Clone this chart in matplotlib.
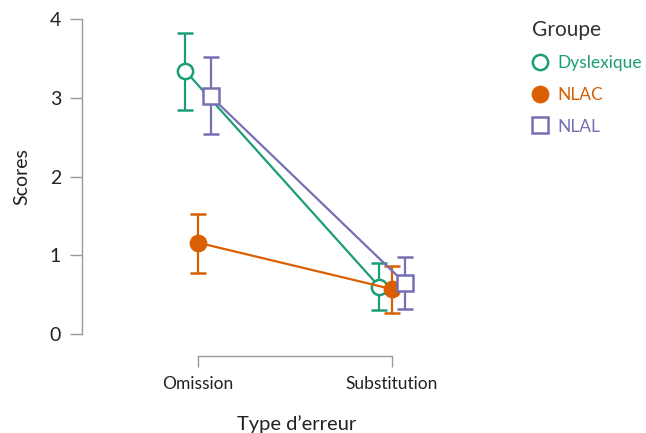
import matplotlib.pyplot as plt
from matplotlib.lines import Line2D

plt.rcParams['font.family'] = ['Lato', 'DejaVu Sans']

# Data
categories = ["Omission", "Substitution"]
groups = ["Dyslexique", "NLAC", "NLAL"]
means = {
    "Dyslexique": [3.34, 0.60],
    "NLAC": [1.16, 0.57],
    "NLAL": [3.02, 0.65],
}
lower = {
    "Dyslexique": [2.84, 0.30],
    "NLAC": [0.77, 0.27],
    "NLAL": [2.54, 0.32],
}
upper = {
    "Dyslexique": [3.82, 0.90],
    "NLAC": [1.52, 0.86],
    "NLAL": [3.52, 0.98],
}

colors = {"Dyslexique": "#1b9e77", "NLAC": "#d95f02", "NLAL": "#7570b3"}
markers = {"Dyslexique": "o", "NLAC": "o", "NLAL": "s"}
filled = {"Dyslexique": False, "NLAC": True, "NLAL": False}
dodge = {"Dyslexique": -0.065, "NLAC": 0.0, "NLAL": 0.065}

fig = plt.figure(figsize=(6.46, 4.33), dpi=100)
ax = fig.add_axes([82 / 646, 1 - 334 / 433, 430 / 646, 315 / 433])

for g in groups:
    xs = [i + dodge[g] for i in range(len(categories))]
    ys = means[g]
    yerr = [[m - lo for m, lo in zip(ys, lower[g])],
            [hi - m for m, hi in zip(ys, upper[g])]]
    c = colors[g]
    ax.errorbar(xs, ys, yerr=yerr, color=c, lw=1.6, elinewidth=1.6,
                capsize=6, capthick=1.6, marker=markers[g], markersize=11,
                markeredgewidth=1.8, markeredgecolor=c,
                markerfacecolor=c if filled[g] else "white",
                clip_on=False, zorder=3)

ax.set_xlim(-0.598, 1.619)
ax.set_ylim(0, 4)
ax.set_xticks(range(len(categories)))
ax.set_xticklabels(categories)
ax.set_yticks([0, 1, 2, 3, 4])

for s in ["top", "right"]:
    ax.spines[s].set_visible(False)
ax.spines["left"].set_bounds(0, 4)
ax.spines["bottom"].set_bounds(0, 1)
ax.spines["bottom"].set_position(("outward", 16))
for s in ["left", "bottom"]:
    ax.spines[s].set_color("#9a9a9a")
    ax.spines[s].set_linewidth(1.0)
ax.tick_params(axis="both", width=1.0, color="#9a9a9a",
               labelcolor="#222222")
ax.tick_params(axis="y", labelsize=14, pad=6, length=9)
ax.tick_params(axis="x", labelsize=12.5, pad=6, length=8)

ax.set_ylabel("Scores", fontsize=14, color="#222222", labelpad=14)
ax.set_xlabel("Type d\u2019erreur", fontsize=14.5, color="#222222", labelpad=17)

handles = [Line2D([], [], linestyle="none", marker=markers[g], markersize=11,
                  markeredgewidth=1.8, markeredgecolor=colors[g],
                  markerfacecolor=colors[g] if filled[g] else "white")
           for g in groups]
leg = fig.legend(handles, groups, loc="upper left",
                 bbox_to_anchor=(516 / 646, 1 - 4 / 433), frameon=False,
                 title="Groupe", title_fontsize=15, fontsize=12.5,
                 labelcolor=[colors[g] for g in groups], alignment="left",
                 handlelength=1.0, handletextpad=0.5, labelspacing=0.9)
leg.get_title().set_color("#333333")

fig.savefig("out.png", dpi=100)
